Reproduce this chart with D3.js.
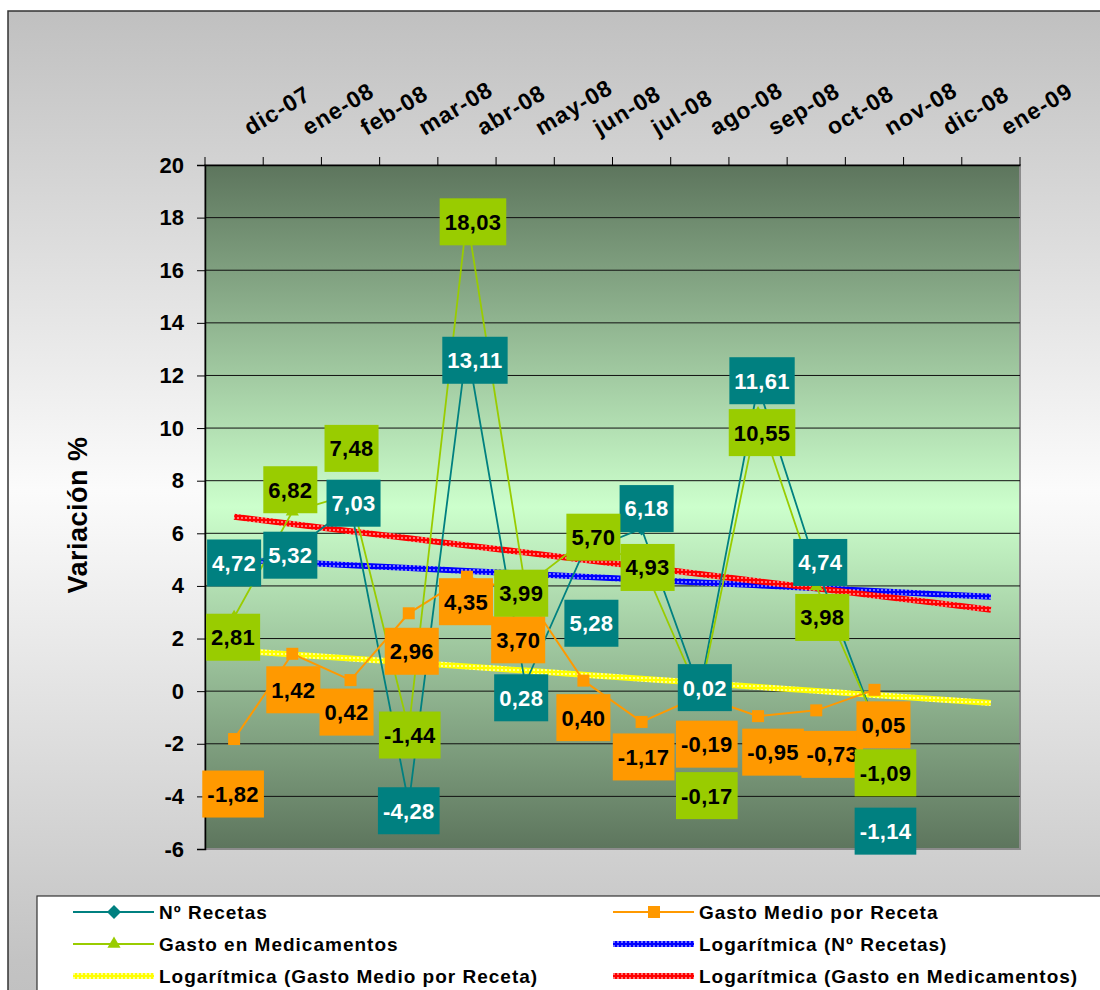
<!DOCTYPE html>
<html><head><meta charset="utf-8">
<script src="https://cdn.jsdelivr.net/npm/d3@7"></script>
<style>
body{margin:0;background:#fff;}
svg text{font-family:"Liberation Sans",Arial,sans-serif;font-weight:bold;}
</style>
</head><body>
<svg id="chart" width="1100" height="990"></svg>
<script>
// ---------- data ----------
const categories = ["dic-07","ene-08","feb-08","mar-08","abr-08","may-08","jun-08","jul-08","ago-08","sep-08","oct-08","nov-08","dic-08","ene-09"];
const firstMonth = [2007, 11]; // dic-07 (year, month index) - used for the date-based trendline
const recetas = [4.72,5.32,7.03,-4.28,13.11,0.28,5.28,6.18,0.02,11.61,4.74,-1.14];
const gastoMedio = [-1.82,1.42,0.42,2.96,4.35,3.70,0.40,-1.17,-0.19,-0.95,-0.73,0.05];
const gastoMedicamentos = [2.81,6.82,7.48,-1.44,18.03,3.99,5.70,4.93,-0.17,10.55,3.98,-1.09];
const yTickValues = [-6,-4,-2,0,2,4,6,8,10,12,14,16,18,20];
const seriesNames = ["Nº Recetas","Gasto Medio por Receta","Gasto en Medicamentos"];
const trendNames = ["Logarítmica (Nº Recetas)","Logarítmica (Gasto Medio por Receta)","Logarítmica (Gasto en Medicamentos)"];
const yTitle = "Variación %";

// data-label placement (pixel shifts from the point, as dragged in the original)
const recetasLabelShift = [[0,-4],[-2,4],[3,-3],[0,7],[8,14],[-4,14],[8,71],[5,-20],[5,-3],[4,-5],[4,-4],[11,110]];
const gastoMedioLabelShift = [[-1,55],[1,36],[-4,32],[3,38],[-1,25],[-7,46],[0,37],[2,35],[7,48],[15,36],[16,44],[9,35]];
const medicamentosLabelShift = [[-1,20],[-2,-22],[1,-46],[1,6],[6,5],[-4,7],[10,-4],[6,6],[7,100],[4,19],[6,31],[11,53]];

// ---------- layout ----------
const P = {left:205, right:1020, top:165, bottom:849};
const C = {teal:"#008080", orange:"#FF9900", green:"#99CC00"};

const svg = d3.select("#chart");
const defs = svg.append("defs");

// outer background gradient
const og = defs.append("linearGradient").attr("id","outerGrad")
  .attr("gradientUnits","userSpaceOnUse").attr("x1",0).attr("y1",11).attr("x2",0).attr("y2",1011);
[[0,"#c0c0c0"],[0.48,"#fbfbfb"],[0.95,"#c3c3c3"],[1,"#c0c0c0"]].forEach(s=>og.append("stop").attr("offset",s[0]).attr("stop-color",s[1]));
// plot gradient
const pg = defs.append("linearGradient").attr("id","plotGrad").attr("x1",0).attr("y1",0).attr("x2",0).attr("y2",1);
[[0,"#5d755d"],[0.5,"#ccffcc"],[1,"#5d755d"]].forEach(s=>pg.append("stop").attr("offset",s[0]).attr("stop-color",s[1]));

function makePattern(id, base, light){
  const p = defs.append("pattern").attr("id",id).attr("patternUnits","userSpaceOnUse").attr("width",4).attr("height",4);
  p.append("rect").attr("width",4).attr("height",4).attr("fill",base);
  p.append("rect").attr("x",1).attr("y",1).attr("width",2).attr("height",2).attr("fill",light);
  p.append("rect").attr("x",1.5).attr("y",1.5).attr("width",1).attr("height",1).attr("fill",base);
}
makePattern("patBlue","#0000ff","#9a9aff");
makePattern("patRed","#ff0000","#ff9a9a");
makePattern("patYellow","#ffff00","#ffffc8");

svg.append("rect").attr("x",8).attr("y",11).attr("width",1200).attr("height",1200)
  .attr("fill","url(#outerGrad)").attr("stroke","#333").attr("stroke-width",1.5);

// scales
const x = d3.scaleBand().domain(categories).range([P.left,P.right]).paddingInner(0).paddingOuter(0);
const bw = x.bandwidth();
const xc = i => x(categories[i]) + bw/2;
const y = d3.scaleLinear().domain([d3.min(yTickValues), d3.max(yTickValues)]).range([P.bottom,P.top]);

// plot area
svg.append("rect").attr("x",P.left).attr("y",P.top).attr("width",P.right-P.left).attr("height",P.bottom-P.top)
  .attr("fill","url(#plotGrad)").attr("stroke","#8c8c8c").attr("stroke-width",2);

// gridlines
svg.append("g").selectAll("line").data(yTickValues.filter(v=>v!==d3.min(yTickValues)&&v!==d3.max(yTickValues)))
  .join("line").attr("x1",P.left).attr("x2",P.right).attr("y1",d=>y(d)).attr("y2",d=>y(d))
  .attr("stroke","#111").attr("stroke-width",1);

// y axis
const yAxis = svg.append("g").attr("transform",`translate(${P.left},0)`)
  .call(d3.axisLeft(y).tickValues(yTickValues).tickSize(8).tickPadding(13).tickFormat(d=>String(d)));
yAxis.select(".domain").attr("stroke","#000").attr("stroke-width",1.5);
yAxis.selectAll(".tick line").attr("stroke","#000");
yAxis.selectAll("text").attr("font-size",22).attr("fill","#000").style("font-weight","bold");

// x axis (top)
const xAxis = svg.append("g").attr("transform",`translate(0,${P.top})`)
  .call(d3.axisTop(x).tickSize(0).tickSizeOuter(0));
xAxis.select(".domain").attr("stroke","#000").attr("stroke-width",1.5);
xAxis.selectAll(".tick line").remove();
xAxis.selectAll(".tick text")
  .attr("font-size",23).attr("fill","#000").style("font-weight","bold").attr("letter-spacing",1)
  .attr("text-anchor","start").attr("x",0).attr("y",0).attr("dy",0)
  .attr("transform","translate(16,-29) rotate(-31)");
// boundary tick marks
const bounds = categories.map(c=>x(c)).concat([P.right]);
svg.append("g").selectAll("line").data(bounds).join("line")
  .attr("x1",d=>d).attr("x2",d=>d).attr("y1",P.top).attr("y2",P.top-8).attr("stroke","#000");

// y title
svg.append("text").attr("transform","translate(78,515) rotate(-90)").attr("text-anchor","middle")
  .attr("dy","0.35em").attr("font-size",27).attr("letter-spacing",0.5).attr("fill","#000").text(yTitle);

// ---------- trendlines (Excel "Logarítmica" on date axis) ----------
function serial(i){ return Date.UTC(firstMonth[0], firstMonth[1]+i, 1)/864e5 + 25569; }
function logFit(vals){
  const xs = vals.map((_,i)=>Math.log(serial(i)));
  const mx = d3.mean(xs), my = d3.mean(vals);
  let sxy=0, sxx=0;
  xs.forEach((v,i)=>{ sxy += (v-mx)*(vals[i]-my); sxx += (v-mx)*(v-mx); });
  const a = sxy/sxx, b = my - a*mx;
  return categories.map((_,i)=>a*Math.log(serial(i))+b);
}
const trendLine = d3.line().x((d,i)=>xc(i)).y(d=>y(d));
const trendG = svg.append("g");
[[recetas,"url(#patBlue)"],[gastoMedio,"url(#patYellow)"],[gastoMedicamentos,"url(#patRed)"]].forEach(([vals,pat])=>{
  trendG.append("path").attr("d",trendLine(logFit(vals))).attr("fill","none")
    .attr("stroke",pat).attr("stroke-width",6);
});

// ---------- series ----------
const line = d3.line().x((d,i)=>xc(i)).y(d=>y(d));
const seriesG = svg.append("g");
const diamond = "M0,-7L7,0L0,7L-7,0Z";
const sqr = d3.symbol().type(d3.symbolSquare).size(144)();
const tri = d3.symbol().type(d3.symbolTriangle).size(75)();
function drawSeries(vals,color,width,shape){
  seriesG.append("path").attr("d",line(vals)).attr("fill","none").attr("stroke",color).attr("stroke-width",width);
  seriesG.append("g").selectAll("path").data(vals).join("path")
    .attr("d",shape).attr("transform",(d,i)=>`translate(${xc(i)},${y(d)})`).attr("fill",color);
}
drawSeries(recetas,C.teal,1.8,diamond);
drawSeries(gastoMedio,C.orange,2,sqr);
drawSeries(gastoMedicamentos,C.green,1.8,tri);

// ---------- data labels ----------
const fmt = v => v.toFixed(2).replace(".",",");
const labelsG = svg.append("g");
function drawLabels(vals,shifts,bg,fg){
  vals.forEach((v,i)=>{
    const cx = xc(i)+shifts[i][0], cy = y(v)+shifts[i][1];
    const g = labelsG.append("g");
    const r = g.append("rect");
    const t = g.append("text").attr("x",cx).attr("y",cy).attr("dy","0.36em").attr("text-anchor","middle")
      .attr("font-size",22).attr("letter-spacing",0.3).attr("fill",fg).text(fmt(v));
    const w = t.node().getComputedTextLength()+10;
    r.attr("x",cx-w/2).attr("y",cy-23.5).attr("width",w).attr("height",47).attr("fill",bg);
  });
}
drawLabels(recetas,recetasLabelShift,C.teal,"#fff");
drawLabels(gastoMedio,gastoMedioLabelShift,C.orange,"#000");
drawLabels(gastoMedicamentos,medicamentosLabelShift,C.green,"#000");

// ---------- legend ----------
svg.append("rect").attr("x",37).attr("y",896).attr("width",1200).attr("height",200)
  .attr("fill","#fff").attr("stroke","#333").attr("stroke-width",1.2);
const legendItems = [
  {name:seriesNames[0], col:0,row:0, color:C.teal, shape:diamond},
  {name:seriesNames[1], col:1,row:0, color:C.orange, shape:sqr},
  {name:seriesNames[2], col:0,row:1, color:C.green, shape:tri},
  {name:trendNames[0], col:1,row:1, pat:"url(#patBlue)"},
  {name:trendNames[1], col:0,row:2, pat:"url(#patYellow)"},
  {name:trendNames[2], col:1,row:2, pat:"url(#patRed)"}
];
const colX = [73,613], rowY = [912,944,976];
const lg = svg.append("g");
legendItems.forEach(it=>{
  const x0 = colX[it.col], yy = rowY[it.row];
  if(it.pat){
    lg.append("line").attr("x1",x0).attr("x2",x0+81).attr("y1",yy).attr("y2",yy).attr("stroke",it.pat).attr("stroke-width",6);
  } else {
    lg.append("line").attr("x1",x0).attr("x2",x0+81).attr("y1",yy).attr("y2",yy).attr("stroke",it.color).attr("stroke-width",2);
    lg.append("path").attr("d",it.shape).attr("transform",`translate(${x0+41},${yy})`).attr("fill",it.color);
  }
  lg.append("text").attr("x",x0+86).attr("y",yy).attr("dy","0.36em").attr("font-size",19)
    .attr("letter-spacing",1).attr("fill","#000").text(it.name);
});
</script>
</body></html>
